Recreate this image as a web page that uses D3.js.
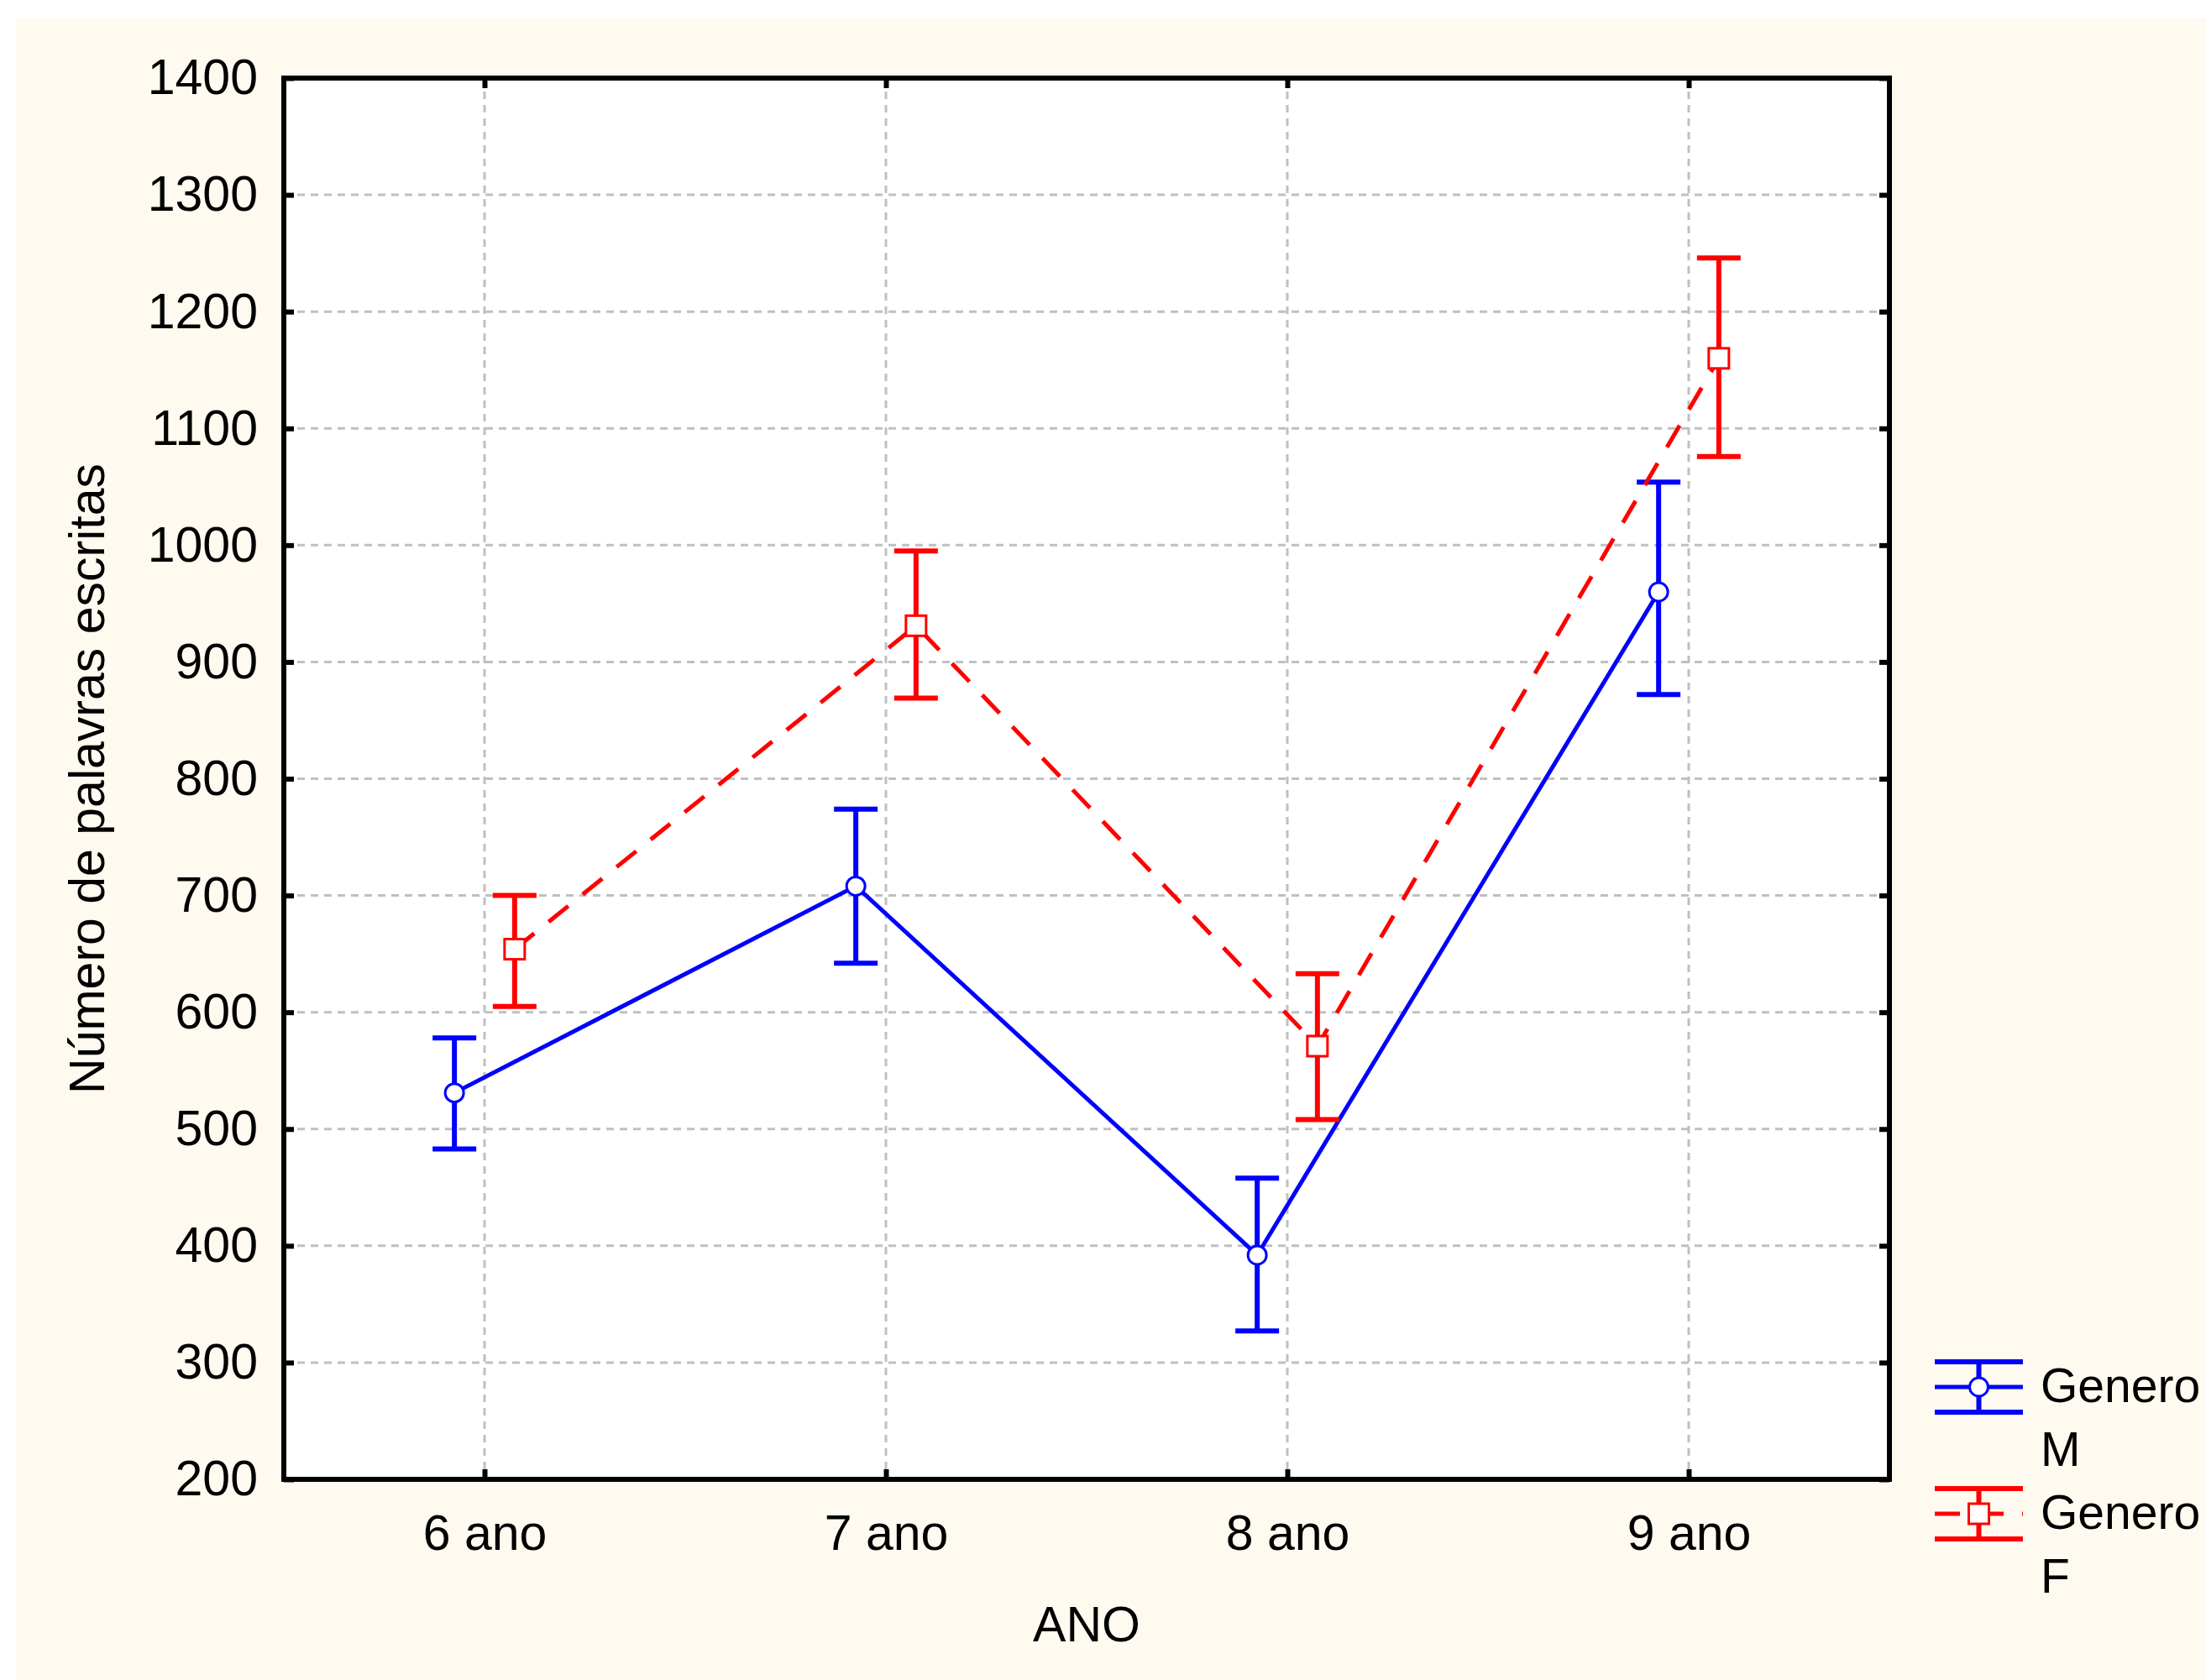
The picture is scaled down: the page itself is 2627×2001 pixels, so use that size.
<!DOCTYPE html>
<html>
<head>
<meta charset="utf-8">
<script src="https://cdn.jsdelivr.net/npm/d3@7"></script>
<style>
  html, body { margin: 0; padding: 0; background: #ffffff; }
  svg { display: block; }
  text { font-family: "Liberation Sans", Arial, sans-serif; fill: #000; }
</style>
</head>
<body>
<script>
// ---- data ----
const categories = ["6 ano", "7 ano", "8 ano", "9 ano"];
const seriesNames = ["M", "F"];
const meanM  = [531, 708, 392, 960];
const upperM = [578, 774, 458, 1054];
const lowerM = [483, 642, 327, 872];
const meanF  = [654, 931, 571, 1160];
const upperF = [700, 995, 633, 1246];
const lowerF = [605, 869, 508, 1076];
const yTicks = [200, 300, 400, 500, 600, 700, 800, 900, 1000, 1100, 1200, 1300, 1400];
const xTitle = "ANO";
const yTitle = "Número de palavras escritas";
const legendTitle = "Genero";

// ---- layout ----
const W = 2627, H = 2001;
const L = 338, R = 2250, T = 93, B = 1762;
const FS = 59;

const svg = d3.select("body").append("svg").attr("width", W).attr("height", H);
svg.append("rect").attr("x", 0).attr("y", 0).attr("width", W).attr("height", H).attr("fill", "#ffffff");
svg.append("rect").attr("x", 19).attr("y", 22).attr("width", W - 19).attr("height", H - 22).attr("fill", "#fffaf0");
svg.append("rect").attr("x", L).attr("y", T).attr("width", R - L).attr("height", B - T).attr("fill", "#ffffff");

const x = d3.scalePoint().domain(categories).range([L, R]).padding(0.5);
const y = d3.scaleLinear().domain([200, 1400]).range([B, T]);
const off = x.step() * 0.075;

// gridlines
const grid = svg.append("g").attr("stroke", "#c0c0c0").attr("stroke-width", 3).attr("stroke-dasharray", "9,7");
grid.selectAll("line.h").data(yTicks.slice(1, -1)).join("line")
  .attr("x1", L).attr("x2", R).attr("y1", d => y(d)).attr("y2", d => y(d));
grid.selectAll("line.v").data(categories).join("line")
  .attr("y1", T).attr("y2", B).attr("x1", d => x(d)).attr("x2", d => x(d));

// axes
function styleAxis(g) {
  g.select(".domain").remove();
  g.selectAll(".tick line").attr("stroke", "#000").attr("stroke-width", 6);
  g.selectAll(".tick text").attr("font-size", FS).attr("font-family", "Liberation Sans, Arial, sans-serif").attr("fill", "#000");
}
svg.append("g").attr("transform", `translate(${L},0)`)
  .call(d3.axisLeft(y).tickValues(yTicks).tickFormat(d3.format("d")).tickSizeInner(-12).tickSizeOuter(0).tickPadding(31))
  .call(styleAxis);
svg.append("g").attr("transform", `translate(${R},0)`)
  .call(d3.axisRight(y).tickValues(yTicks).tickSizeInner(-12).tickSizeOuter(0).tickFormat(""))
  .call(styleAxis);
svg.append("g").attr("transform", `translate(0,${B})`)
  .call(d3.axisBottom(x).tickSizeInner(-12).tickSizeOuter(0).tickPadding(42))
  .call(styleAxis);
svg.append("g").attr("transform", `translate(0,${T})`)
  .call(d3.axisTop(x).tickSizeInner(-12).tickSizeOuter(0).tickFormat(""))
  .call(styleAxis);

// frame
svg.append("rect").attr("x", L).attr("y", T).attr("width", R - L).attr("height", B - T)
  .attr("fill", "none").attr("stroke", "#000").attr("stroke-width", 6);

// titles
svg.append("text").attr("x", (L + R) / 2).attr("y", 1955).attr("text-anchor", "middle")
  .attr("font-size", FS).text(xTitle);
svg.append("text").attr("transform", `translate(124,${(T + B) / 2}) rotate(-90)`).attr("text-anchor", "middle")
  .attr("font-size", FS).text(yTitle);

// series
const series = [
  { name: seriesNames[0], mean: meanM, up: upperM, lo: lowerM, color: "#0000ff", dx: -off, dash: null, shape: "circle" },
  { name: seriesNames[1], mean: meanF, up: upperF, lo: lowerF, color: "#ff0000", dx: off, dash: "30,22", shape: "square" }
];
const capW = 52;

function drawMarker(g, shape, cx, cy, color) {
  if (shape === "circle") {
    g.append("circle").attr("cx", cx).attr("cy", cy).attr("r", 11)
      .attr("fill", "#fff").attr("stroke", color).attr("stroke-width", 3);
  } else {
    g.append("rect").attr("x", cx - 12).attr("y", cy - 12).attr("width", 24).attr("height", 24)
      .attr("fill", "#fff").attr("stroke", color).attr("stroke-width", 3);
  }
}

series.forEach(s => {
  const g = svg.append("g");
  const line = d3.line().x((d, i) => x(categories[i]) + s.dx).y(d => y(d));
  g.append("path").attr("d", line(s.mean)).attr("fill", "none").attr("stroke", s.color)
    .attr("stroke-width", 5).attr("stroke-dasharray", s.dash);
  categories.forEach((c, i) => {
    const cx = x(c) + s.dx;
    g.append("line").attr("x1", cx).attr("x2", cx).attr("y1", y(s.up[i])).attr("y2", y(s.lo[i]))
      .attr("stroke", s.color).attr("stroke-width", 6);
    [s.up[i], s.lo[i]].forEach(v => {
      g.append("line").attr("x1", cx - capW / 2).attr("x2", cx + capW / 2).attr("y1", y(v)).attr("y2", y(v))
        .attr("stroke", s.color).attr("stroke-width", 6);
    });
    drawMarker(g, s.shape, cx, y(s.mean[i]), s.color);
  });
});

// legend
const legX = 2304, legW = 105, legTextX = 2430, legFS = 57;
const legY = [1652, 1803];
series.forEach((s, k) => {
  const g = svg.append("g");
  const cy = legY[k], cx = legX + legW / 2;
  g.append("line").attr("x1", legX).attr("x2", legX + legW).attr("y1", cy).attr("y2", cy)
    .attr("stroke", s.color).attr("stroke-width", 5).attr("stroke-dasharray", s.dash);
  g.append("line").attr("x1", cx).attr("x2", cx).attr("y1", cy - 30).attr("y2", cy + 30)
    .attr("stroke", s.color).attr("stroke-width", 6);
  [cy - 30, cy + 30].forEach(v => {
    g.append("line").attr("x1", legX).attr("x2", legX + legW).attr("y1", v).attr("y2", v)
      .attr("stroke", s.color).attr("stroke-width", 6);
  });
  drawMarker(g, s.shape, cx, cy, s.color);
  g.append("text").attr("x", legTextX).attr("y", cy + 18).attr("font-size", legFS).text(legendTitle);
  g.append("text").attr("x", legTextX).attr("y", cy + 94).attr("font-size", legFS).text(s.name);
});
</script>
</body>
</html>
